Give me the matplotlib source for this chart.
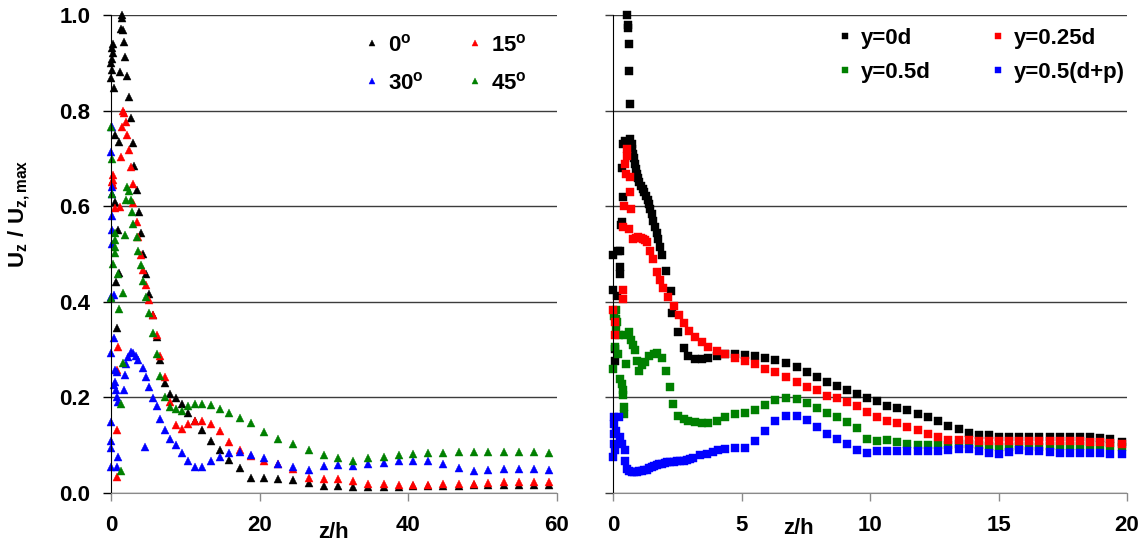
import matplotlib
matplotlib.use('Agg')
import matplotlib.pyplot as plt
from matplotlib.ticker import FormatStrFormatter

plt.rcParams['font.family'] = ['Liberation Sans', 'DejaVu Sans']
plt.rcParams['font.weight'] = 'bold'
plt.rcParams['mathtext.fontset'] = 'custom'
plt.rcParams['mathtext.rm'] = 'Liberation Sans:bold'
plt.rcParams['mathtext.bf'] = 'Liberation Sans:bold'
plt.rcParams['mathtext.it'] = 'Liberation Sans:bold'

# ---- left panel: jet angle ----
# shared far-field z/h positions
zl_tail = [4.35, 4.71, 5.16, 5.6, 6.15, 6.65, 7.3, 7.94, 8.75, 9.5, 10.4, 11.3, 12.3, 13.5,
           14.7, 15.9, 17.4, 18.9, 20.6, 22.5, 24.5, 26.6, 28.6, 30.6, 32.6, 34.6, 36.7, 38.8,
           40.7, 42.7, 44.7, 46.8, 48.8, 50.8, 52.9, 54.9, 56.9, 59.0]

z0_head = [0.22, 0.1, 0.2, 0.1, 0.05, 0.1, 0.0, 0.4, 0.54, 1.08, 0.5, 0.99, 1.04, 0.67, 0.85, 1.21,
           1.44, 1.52, 1.4, 1.55, 1.79, 1.88, 2.2, 2.42, 2.69, 2.92, 3.14, 3.45, 3.72, 4.0]
u0_head = [0.94, 0.93, 0.92, 0.909, 0.899, 0.885, 0.868, 0.848, 0.749, 0.735, 0.609, 0.55, 0.46, 0.441,
           0.345, 0.881, 1.0, 0.993, 0.97, 0.968, 0.944, 0.913, 0.872, 0.829, 0.784, 0.733, 0.685,
           0.634, 0.588, 0.543]
u0_tail = [0.5, 0.458, 0.416, 0.372, 0.326, 0.278, 0.231, 0.207, 0.198, 0.186, 0.167, 0.15, 0.132, 0.109,
           0.09, 0.069, 0.052, 0.032, 0.032, 0.029, 0.027, 0.02, 0.015, 0.015, 0.013, 0.013, 0.013, 0.013,
           0.014, 0.014, 0.015, 0.015, 0.016, 0.016, 0.017, 0.017, 0.017, 0.017]

z15_head = [1.6, 1.75, 2.0, 1.44, 2.2, 2.46, 1.3, 2.65, 0.2, 0.25, 0.3, 2.92, 3.0, 0.54, 1.2, 3.45,
            3.68, 4.0, 0.99, 0.77, 0.85, 0.85, 0.1]
u15_head = [0.80, 0.795, 0.777, 0.766, 0.749, 0.718, 0.704, 0.683, 0.665, 0.655, 0.644, 0.646, 0.606,
            0.596, 0.598, 0.568, 0.535, 0.498, 0.306, 0.257, 0.132, 0.034, 0.651]
u15_tail = [0.467, 0.435, 0.404, 0.372, 0.33, 0.287, 0.242, 0.191, 0.142, 0.133, 0.144, 0.151, 0.151,
            0.144, 0.13, 0.107, 0.091, 0.077, 0.068, 0.06, 0.05, 0.032, 0.029, 0.029, 0.026, 0.019, 0.018,
            0.017, 0.017, 0.017, 0.018, 0.018, 0.018, 0.02, 0.022, 0.022, 0.022, 0.022]

z30_head = [0.1, 0.05, 0.15, 0.1, 0.1, 0.15, 0.1, 0.4, 0.0, 0.0, 0.4, 0.54, 0.77, 0.5, 0.45, 0.6, 0.75,
            0.9, 1.88, 1.75, 0.0, 4.58, 0.99, 0.0, 0.77, 0.0, 0.0, 2.0, 2.33, 2.65, 3.0, 3.36, 3.68]
u30_head = [0.765, 0.714, 0.64, 0.625, 0.58, 0.52, 0.55, 0.414, 0.41, 0.292, 0.324, 0.257, 0.254, 0.233,
            0.226, 0.215, 0.201, 0.191, 0.247, 0.215, 0.109, 0.096, 0.075, 0.055, 0.055, 0.149, 0.094,
            0.27, 0.285, 0.294, 0.292, 0.287, 0.278]
u30_tail = [0.262, 0.242, 0.222, 0.198, 0.181, 0.154, 0.132, 0.114, 0.1, 0.084, 0.068, 0.054, 0.055,
            0.068, 0.076, 0.083, 0.086, 0.079, 0.073, 0.06, 0.054, 0.048, 0.056, 0.058, 0.057, 0.06, 0.062,
            0.068, 0.068, 0.066, 0.06, 0.053, 0.047, 0.048, 0.05, 0.05, 0.05, 0.048]

z45_head = [0.0, 0.1, 0.1, 2.2, 2.46, 2.0, 2.7, 2.87, 3.0, 1.88, 3.45, 3.68, 0.5, 0.55, 0.5, 0.55, 0.31,
            0.99, 1.66, 0.0, 1.12, 1.57, 1.3, 1.3, 4.0]
u45_head = [0.766, 0.698, 0.625, 0.64, 0.632, 0.613, 0.613, 0.588, 0.563, 0.54, 0.535, 0.507, 0.544,
            0.53, 0.515, 0.502, 0.48, 0.458, 0.419, 0.407, 0.386, 0.271, 0.186, 0.045, 0.477]
u45_tail = [0.444, 0.411, 0.376, 0.334, 0.291, 0.245, 0.201, 0.179, 0.175, 0.172, 0.182, 0.186, 0.186,
            0.184, 0.176, 0.168, 0.156, 0.146, 0.128, 0.114, 0.102, 0.09, 0.08, 0.073, 0.067, 0.073, 0.076,
            0.08, 0.081, 0.083, 0.083, 0.085, 0.086, 0.086, 0.086, 0.086, 0.086, 0.084]

# ---- right panel: lateral position ----
zr_tail = [4.36, 4.75, 5.14, 5.53, 5.91, 6.3, 6.73, 7.15, 7.54, 7.93, 8.32, 8.7, 9.09, 9.5, 9.87,
           10.26, 10.67, 11.06, 11.45, 11.86, 12.27, 12.66, 13.05, 13.46, 13.83, 14.25, 14.64, 15.03,
           15.42, 15.81, 16.2, 16.59, 17.0, 17.39, 17.78, 18.17, 18.56, 18.95, 19.34, 19.79]

zy0_head = [0.01, 0.2, 0.27, 0.27, 0.01, 0.17, 0.08, 0.08, 0.3, 0.34, 0.38, 0.34, 0.27, 0.47, 0.4,
            0.53, 0.57, 0.57, 0.6, 0.62, 0.66, 0.66, 0.72, 0.75, 0.79, 0.83, 0.86, 0.89, 0.92, 0.97,
            1.02, 1.09, 1.16, 1.22, 1.28, 1.35, 1.41, 1.45, 1.5, 1.57, 1.63, 1.7, 1.76, 1.82, 1.89,
            2.06, 2.24, 2.28, 2.54, 2.74, 2.93, 3.19, 3.45, 3.71, 4.04]
uy0_head = [0.497, 0.507, 0.472, 0.459, 0.425, 0.413, 0.302, 0.277, 0.56, 0.566, 0.619, 0.681, 0.507,
            0.737, 0.731, 1.0, 0.98, 0.972, 0.939, 0.882, 0.814, 0.741, 0.73, 0.72, 0.709, 0.70, 0.688,
            0.678, 0.667, 0.66, 0.65, 0.643, 0.636, 0.629, 0.622, 0.613, 0.605, 0.595, 0.584, 0.57,
            0.557, 0.545, 0.532, 0.515, 0.499, 0.464, 0.422, 0.376, 0.337, 0.304, 0.286, 0.281, 0.281,
            0.282, 0.286]
uy0_tail = [0.29, 0.29, 0.288, 0.286, 0.283, 0.279, 0.272, 0.263, 0.253, 0.243, 0.232, 0.223, 0.215,
            0.208, 0.199, 0.192, 0.183, 0.178, 0.173, 0.166, 0.158, 0.151, 0.141, 0.133, 0.126, 0.122,
            0.121, 0.118, 0.118, 0.118, 0.118, 0.118, 0.118, 0.118, 0.118, 0.118, 0.117, 0.115, 0.112,
            0.107]

zy25_head = [0.01, 0.08, 0.08, 0.38, 0.4, 0.4, 0.43, 0.47, 0.51, 0.53, 0.55, 0.6, 0.64, 0.66, 0.69,
             0.79, 0.88, 0.98, 1.07, 1.16, 1.24, 1.31, 1.44, 1.54, 1.7, 1.83, 1.96, 2.15, 2.37, 2.58,
             2.76, 2.97, 3.19, 3.45, 3.71, 4.04]
uy25_head = [0.382, 0.357, 0.33, 0.406, 0.425, 0.556, 0.601, 0.688, 0.667, 0.706, 0.72, 0.553, 0.661,
             0.629, 0.594, 0.532, 0.533, 0.535, 0.534, 0.532, 0.53, 0.525, 0.507, 0.49, 0.462, 0.445,
             0.429, 0.411, 0.392, 0.373, 0.355, 0.339, 0.326, 0.316, 0.305, 0.298]
uy25_tail = [0.291, 0.283, 0.276, 0.269, 0.26, 0.253, 0.242, 0.232, 0.222, 0.215, 0.204, 0.199, 0.19,
             0.181, 0.169, 0.158, 0.151, 0.146, 0.139, 0.131, 0.124, 0.118, 0.111, 0.111, 0.11, 0.109,
             0.109, 0.109, 0.109, 0.109, 0.109, 0.109, 0.109, 0.109, 0.108, 0.108, 0.107, 0.106, 0.104,
             0.102]

zy50_head = [0.01, 0.12, 0.12, 0.12, 0.14, 0.08, 0.21, 0.05, 0.2, 0.27, 0.34, 0.4, 0.4, 0.43, 0.43,
             0.47, 0.6, 0.69, 0.79, 0.86, 0.51, 0.92, 1.02, 1.12, 1.25, 1.41, 1.6, 1.72, 1.89, 2.06,
             2.22, 2.32, 2.54, 2.74, 2.93, 3.19, 3.45, 3.71, 4.04]
uy50_head = [0.26, 0.382, 0.365, 0.347, 0.357, 0.305, 0.33, 0.37, 0.29, 0.239, 0.229, 0.215, 0.205,
             0.18, 0.166, 0.33, 0.337, 0.32, 0.309, 0.3, 0.27, 0.277, 0.256, 0.267, 0.274, 0.286, 0.291,
             0.293, 0.283, 0.255, 0.222, 0.187, 0.162, 0.155, 0.151, 0.148, 0.147, 0.147, 0.15]
uy50_tail = [0.158, 0.166, 0.167, 0.173, 0.185, 0.195, 0.199, 0.197, 0.188, 0.178, 0.167, 0.16, 0.148,
             0.135, 0.114, 0.109, 0.11, 0.107, 0.102, 0.1, 0.1, 0.1, 0.101, 0.103, 0.103, 0.1, 0.098,
             0.096, 0.097, 0.098, 0.098, 0.097, 0.098, 0.098, 0.098, 0.099, 0.1, 0.1, 0.099, 0.096]

zyp_head = [0.05, 0.05, 0.05, 0.05, 0.01, 0.08, 0.13, 0.21, 0.27, 0.34, 0.47, 0.47, 0.53, 0.62, 0.73,
            0.82, 0.92, 1.02, 1.12, 1.22, 1.31, 1.4, 1.5, 1.6, 1.7, 1.8, 1.89, 2.0, 2.09, 2.22, 2.35,
            2.48, 2.61, 2.74, 2.87, 3.0, 3.12, 3.39, 3.65, 3.9, 4.1]
uyp_head = [0.16, 0.145, 0.124, 0.103, 0.075, 0.09, 0.13, 0.159, 0.117, 0.103, 0.089, 0.068, 0.051,
            0.046, 0.044, 0.043, 0.044, 0.045, 0.047, 0.048, 0.049, 0.052, 0.054, 0.056, 0.058, 0.06,
            0.061, 0.063, 0.065, 0.065, 0.065, 0.066, 0.067, 0.068, 0.07, 0.072, 0.074, 0.079, 0.081,
            0.086, 0.089]
uyp_tail = [0.093, 0.095, 0.095, 0.109, 0.13, 0.15, 0.161, 0.161, 0.152, 0.139, 0.124, 0.112, 0.103,
            0.091, 0.084, 0.088, 0.088, 0.088, 0.088, 0.088, 0.088, 0.088, 0.089, 0.092, 0.092, 0.088,
            0.084, 0.082, 0.086, 0.089, 0.088, 0.088, 0.086, 0.084, 0.084, 0.084, 0.084, 0.084, 0.082,
            0.081]

left_series = [('0$^o$', 'black', z0_head, u0_head, u0_tail),
               ('15$^o$', 'red', z15_head, u15_head, u15_tail),
               ('30$^o$', 'blue', z30_head, u30_head, u30_tail),
               ('45$^o$', 'green', z45_head, u45_head, u45_tail)]
right_series = [('y=0d', 'black', zy0_head, uy0_head, uy0_tail),
                ('y=0.5d', 'green', zy50_head, uy50_head, uy50_tail),
                ('y=0.25d', 'red', zy25_head, uy25_head, uy25_tail),
                ('y=0.5(d+p)', 'blue', zyp_head, uyp_head, uyp_tail)]

FS = 16
GRID = '#3c3c3c'
AXGRAY = '#8a8a8a'

fig = plt.figure(figsize=(11.46, 5.45), dpi=100)
axl = fig.add_axes([0.0969, 0.0954, 0.389, 0.877])
axr = fig.add_axes([0.535, 0.0954, 0.4485, 0.877])


def style_axes(ax, xmax, xticks):
    ax.set_xlim(0, xmax)
    ax.set_ylim(0, 1.0)
    ax.set_xticks(xticks)
    ax.set_yticks([0.0, 0.2, 0.4, 0.6, 0.8, 1.0])
    ax.yaxis.set_major_formatter(FormatStrFormatter('%.1f'))
    ax.grid(axis='y', color=GRID, linewidth=1.0)
    ax.set_axisbelow(True)
    for s in ('top', 'right'):
        ax.spines[s].set_visible(False)
    ax.spines['left'].set_color('black')
    ax.spines['bottom'].set_color(AXGRAY)
    ax.tick_params(axis='x', colors=AXGRAY, labelcolor='black', length=6, width=1, pad=10,
                   labelsize=FS)
    ax.tick_params(axis='y', colors='black', length=6, width=1, pad=9, labelsize=FS)


style_axes(axl, 60, [0, 20, 40, 60])
style_axes(axr, 20, [0, 5, 10, 15, 20])
axr.tick_params(axis='y', labelleft=False, colors=GRID)

handles_l = {}
for label, col, zh, uh, ut in left_series:
    h, = axl.plot(list(zh) + zl_tail, list(uh) + list(ut), linestyle='none', marker='^', ms=6.2,
                  color=col, mec=col, mew=0.3, clip_on=False, label=label)
    handles_l[label] = h

handles_r = {}
for label, col, zh, uh, ut in right_series:
    h, = axr.plot(list(zh) + zr_tail, list(uh) + list(ut), linestyle='none', marker='s', ms=5.2,
                  color=col, mec=col, mew=0.3, clip_on=False, label=label)
    handles_r[label] = h

# legends fill column-wise, so order entries to read row-wise
order_l = ['0$^o$', '30$^o$', '15$^o$', '45$^o$']
axl.legend([handles_l[k] for k in order_l], order_l,
           ncol=2, frameon=False, fontsize=FS, markerscale=0.7, handlelength=0.5,
           handletextpad=0.45, columnspacing=2.08, labelspacing=0.72,
           loc='upper left', bbox_to_anchor=(0.528, 1.002))
order_r = ['y=0d', 'y=0.5d', 'y=0.25d', 'y=0.5(d+p)']
axr.legend([handles_r[k] for k in order_r], order_r,
           ncol=2, frameon=False, fontsize=FS, markerscale=0.75, handlelength=0.5,
           handletextpad=0.45, columnspacing=2.8, labelspacing=0.58,
           loc='upper left', bbox_to_anchor=(0.4016, 1.015))

axl.text(0.498, -0.082, 'z/h', transform=axl.transAxes, ha='center', va='center', fontsize=FS)
axr.text(0.36, -0.075, 'z/h', transform=axr.transAxes, ha='center', va='center', fontsize=FS)

axl.set_ylabel(r'$\mathbf{U_z\ /\ U_{z,max}}$', fontsize=FS)
axl.yaxis.set_label_coords(-0.177, 0.584)

fig.savefig('out.png', dpi=100)
